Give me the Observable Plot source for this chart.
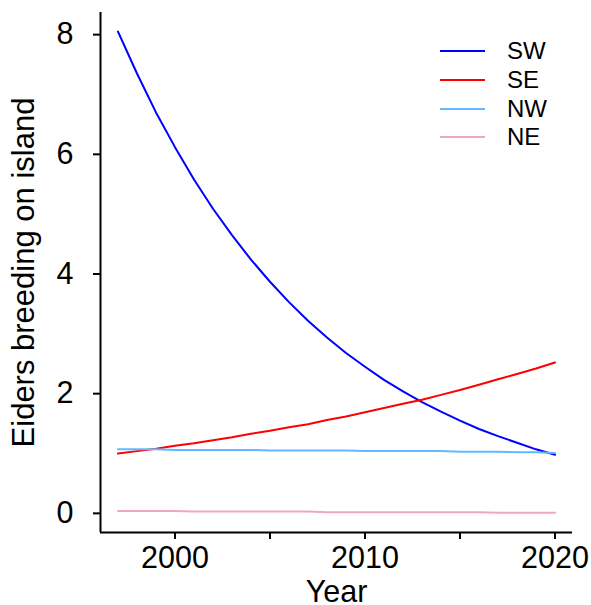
<!DOCTYPE html>
<html>
<head>
<meta charset="utf-8">
<script src="https://cdn.jsdelivr.net/npm/d3@7"></script>
<script src="https://cdn.jsdelivr.net/npm/@observablehq/plot@0.6"></script>
<style>
  html, body { margin: 0; padding: 0; background: #fff; }
  #wrap { position: relative; width: 591px; height: 605px; font-family: "Liberation Sans", Arial, sans-serif; }
  #legend { position: absolute; left: 440px; top: 37px; }
  .row { display: flex; align-items: center; height: 28.7px; }
  .swatch { width: 45px; height: 2px; margin-right: 22px; }
  .lab { font-size: 24px; line-height: 24px; color: #000; }
</style>
</head>
<body>
<div id="wrap"><div id="legend"></div></div>
<script>
const years = d3.range(1997, 2021);
const regions = ["SW", "SE", "NW", "NE"];
const colors = ["#0000FF", "#FF0000", "#63B8FF", "#EEA9B8"];
const SW = [8.05, 7.35, 6.70, 6.12, 5.58, 5.09, 4.65, 4.24, 3.87, 3.53, 3.22, 2.94,
            2.68, 2.45, 2.23, 2.04, 1.86, 1.70, 1.55, 1.41, 1.29, 1.18, 1.07, 0.98];
const SE = [1.00, 1.04, 1.08, 1.13, 1.17, 1.22, 1.27, 1.33, 1.38, 1.44, 1.49, 1.56,
            1.62, 1.69, 1.76, 1.83, 1.90, 1.98, 2.06, 2.15, 2.24, 2.33, 2.42, 2.52];
const NW = [1.07, 1.07, 1.07, 1.06, 1.06, 1.06, 1.06, 1.06, 1.05, 1.05, 1.05, 1.05,
            1.05, 1.04, 1.04, 1.04, 1.04, 1.04, 1.03, 1.03, 1.03, 1.02, 1.02, 1.01];
const NE = [0.04, 0.04, 0.04, 0.04, 0.03, 0.03, 0.03, 0.03, 0.03, 0.03, 0.03, 0.02,
            0.02, 0.02, 0.02, 0.02, 0.02, 0.02, 0.02, 0.02, 0.01, 0.01, 0.01, 0.01];
const yTicks = [0, 2, 4, 6, 8];
const xTicks = [2000, 2005, 2010, 2015, 2020];
const xLabel = "Year";
const yLabel = "Eiders breeding on island";

const series = {SW, SE, NW, NE};
const rows = regions.flatMap(r => years.map((yr, i) => ({year: yr, value: series[r][i], region: r})));

const xmin = 1996.08, xmax = 2020.92, ymin = -0.32, ymax = 8.37;

const chart = Plot.plot({
  width: 591,
  height: 605,
  marginLeft: 100,
  marginRight: 19,
  marginTop: 12,
  marginBottom: 73,
  style: {fontFamily: "'Liberation Sans', Arial, sans-serif", color: "#000", background: "#fff", overflow: "visible"},
  x: {domain: [xmin, xmax]},
  y: {domain: [ymin, ymax]},
  color: {domain: regions, range: colors},
  marks: [
    Plot.axisY({ticks: yTicks, tickSize: 7, tickPadding: 20, fontSize: 30.5, strokeWidth: 2, label: null}),
    Plot.axisX({ticks: xTicks, tickSize: 7, tickPadding: 7, fontSize: 30.5, strokeWidth: 2, label: null,
      tickFormat: d => d % 10 === 0 ? String(d) : ""}),
    Plot.ruleX([xmin], {y1: ymin, y2: ymax, stroke: "#000", strokeWidth: 2}),
    Plot.ruleY([ymin], {x1: xmin, x2: xmax, stroke: "#000", strokeWidth: 2}),
    Plot.lineY(rows, {x: "year", y: "value", stroke: "region", strokeWidth: 2}),
    Plot.text([xLabel], {text: d => d, frameAnchor: "bottom", lineAnchor: "middle", textAnchor: "middle", dy: 60, fontSize: 30.5}),
    Plot.text([yLabel], {text: d => d, frameAnchor: "left", lineAnchor: "middle", textAnchor: "middle", dx: -76, rotate: -90, fontSize: 31})
  ]
});
document.getElementById("wrap").prepend(chart);

const legend = d3.select("#legend");
regions.forEach((r, i) => {
  const row = legend.append("div").attr("class", "row");
  row.append("div").attr("class", "swatch").style("background", colors[i]);
  row.append("span").attr("class", "lab").text(r);
});
</script>
</body>
</html>
